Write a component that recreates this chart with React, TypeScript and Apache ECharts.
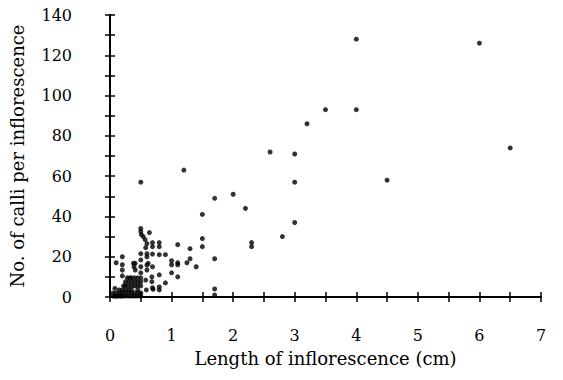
import React, { useEffect, useRef } from "react";
import * as echarts from "echarts";

// Length of inflorescence (cm)
const lengthCm: number[] = [
  // sparse, larger inflorescences
  0.5, 1.2, 1.5, 1.5, 1.5, 1.7, 1.7, 1.7, 1.7, 2.0, 2.2, 2.3, 2.3, 2.6, 2.8, 3.0, 3.0, 3.0, 3.2, 3.5, 4.0, 4.0, 4.5, 6.0, 6.5,
  // 0.8 - 1.4 cm
  1.1, 1.3, 1.3, 1.25, 1.1, 1.1, 1.0, 1.0, 1.4, 1.0, 1.1, 0.9, 0.9, 0.8, 0.8, 0.8, 0.8, 0.8, 0.8,
  // 0.5 - 0.7 cm column
  0.5, 0.5, 0.51, 0.54, 0.57, 0.64, 0.6, 0.58, 0.69, 0.69, 0.5, 0.6, 0.6, 0.69, 0.5, 0.62, 0.5, 0.6, 0.69, 0.6, 0.5, 0.68, 0.68, 0.58, 0.69, 0.59, 0.7,
  // 0.1 - 0.45 cm
  0.2, 0.2, 0.1, 0.41, 0.41, 0.38, 0.39, 0.2, 0.2, 0.08,
  // dense cluster near the origin
  0.05, 0.08, 0.1, 0.12, 0.15, 0.18, 0.2, 0.25, 0.3, 0.35, 0.4, 0.45, 0.5,
  0.05, 0.1, 0.15, 0.2, 0.25, 0.3, 0.35, 0.4, 0.45, 0.5,
  0.15, 0.2, 0.25, 0.3, 0.35, 0.45,
  0.22, 0.25, 0.3, 0.35, 0.4, 0.45, 0.5,
  0.25, 0.3, 0.35, 0.4, 0.45, 0.5,
  0.28, 0.32, 0.35, 0.4, 0.45, 0.5,
];

// No. of calli per inflorescence
const calliCount: number[] = [
  57, 63, 41, 29, 25, 49, 19, 4, 1, 51, 44, 27, 25, 72, 30, 71, 57, 37, 86, 93, 128, 93, 58, 126, 74,
  26, 24, 19, 17, 17, 16, 18, 16, 15, 12, 10, 21, 7, 11, 5, 3.5, 27, 25, 21,
  34, 32.5, 31, 30, 28.5, 32, 26.5, 24.5, 27, 25, 21.5, 21.5, 20, 21.3, 18.4, 16.7, 15, 15.9, 15, 13.4, 12, 10, 7.6, 8.4, 4.6, 3.5, 3.8,
  20, 16, 17, 16.7, 13.4, 16.7, 15, 13.4, 10.5, 4.3,
  0.5, 0.5, 0.5, 0.5, 0.5, 0.5, 0.5, 0.5, 0.5, 0.5, 0.5, 0.5, 0.5,
  2, 2, 2, 2, 2, 2, 2, 2, 2, 2,
  3.5, 3.5, 3.5, 3.5, 3.5, 3.5,
  5.5, 5.5, 5.5, 5.5, 5.5, 5.5, 5.5,
  7.5, 7.5, 7.5, 7.5, 7.5, 7.5,
  9.5, 9.5, 9.5, 9.5, 9.5, 9.5,
];

const xLabelValues = [0, 1, 2, 3, 4, 5, 6, 7];
const yLabelValues = [0, 20, 40, 60, 80, 100, 120, 140];

const FONT = "DejaVu Serif";

export default function App() {
  const ref = useRef<HTMLDivElement>(null);
  useEffect(() => {
    if (!ref.current) return;
    const chart = echarts.init(ref.current, null, { renderer: "svg" });
    const points = lengthCm.map((x, i) => [x, calliCount[i]]);
    const lineStyle = { color: "#000", width: 2 };
    const tickStyle = { color: "#000", width: 1.5 };
    chart.setOption({
      animation: false,
      backgroundColor: "#fff",
      textStyle: { fontFamily: FONT },
      grid: { left: 110, right: 22, top: 15, bottom: 83 },
      xAxis: [
        {
          type: "value",
          position: "bottom",
          min: 0,
          max: 7,
          interval: 0.5,
          offset: 12,
          splitLine: { show: false },
          axisLine: { show: true, lineStyle },
          axisTick: { show: true, inside: true, length: 5, lineStyle: tickStyle },
          axisLabel: {
            color: "#000",
            fontFamily: FONT,
            fontSize: 16,
            margin: 18,
            formatter: (v: number) => (xLabelValues.includes(v) ? String(v) : ""),
          },
          name: "Length of inflorescence (cm)",
          nameLocation: "middle",
          nameGap: 40,
          nameTextStyle: { color: "#000", fontFamily: FONT, fontSize: 18 },
        },
        {
          type: "value",
          position: "top",
          min: 0,
          max: 7,
          interval: 0.5,
          offset: 10,
          splitLine: { show: false },
          axisLine: { show: true, lineStyle },
          axisTick: { show: true, inside: true, length: 5, lineStyle: tickStyle },
          axisLabel: { show: false },
        },
      ],
      yAxis: [
        {
          type: "value",
          position: "left",
          min: 0,
          max: 140,
          interval: 10,
          offset: 14,
          splitLine: { show: false },
          axisLine: { show: true, lineStyle },
          axisTick: { show: true, inside: true, length: 5, lineStyle: tickStyle },
          axisLabel: {
            color: "#000",
            fontFamily: FONT,
            fontSize: 16,
            margin: 24,
            formatter: (v: number) => (yLabelValues.includes(v) ? String(v) : ""),
          },
          name: "No. of calli per inflorescence",
          nameLocation: "middle",
          nameGap: 70,
          nameTextStyle: { color: "#000", fontFamily: FONT, fontSize: 18 },
        },
        {
          type: "value",
          position: "right",
          min: 0,
          max: 140,
          interval: 10,
          offset: 13,
          splitLine: { show: false },
          axisLine: { show: true, lineStyle },
          axisTick: { show: true, inside: true, length: 5, lineStyle: tickStyle },
          axisLabel: { show: false },
        },
      ],
      series: [
        {
          type: "scatter",
          xAxisIndex: 0,
          yAxisIndex: 0,
          data: points,
          symbol: "circle",
          symbolSize: 5,
          itemStyle: { color: "#000" },
        },
      ],
    });
    return () => chart.dispose();
  }, []);
  return (
    <div
      ref={ref}
      style={{ position: "fixed", left: 0, top: 0, width: 563, height: 380, background: "#fff" }}
    />
  );
}
